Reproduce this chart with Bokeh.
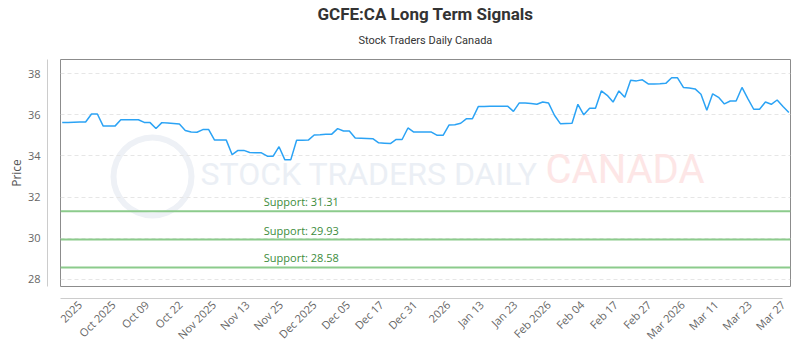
import numpy as np
from bokeh.plotting import figure
from bokeh.models import (Range1d, LinearAxis, FixedTicker, Grid, Span, Label, Title,
                          CustomJSTickFormatter)
from bokeh.core.properties import value
from bokeh.embed import file_html
from bokeh.resources import INLINE

# ---------------- data ----------------
title_text = "GCFE:CA Long Term Signals"
subtitle_text = "Stock Traders Daily Canada"
y_axis_title = "Price"

prices = [
    35.62, 35.63, 35.64, 35.65, 35.65, 36.04, 36.04, 35.45, 35.45, 35.45,
    35.76, 35.76, 35.76, 35.76, 35.63, 35.62, 35.33, 35.62, 35.60, 35.58,
    35.55, 35.24, 35.16, 35.15, 35.28, 35.28, 34.77, 34.77, 34.77, 34.06,
    34.27, 34.27, 34.17, 34.16, 34.15, 33.99, 33.99, 34.45, 33.81, 33.81,
    34.76, 34.76, 34.77, 35.02, 35.03, 35.05, 35.06, 35.33, 35.21, 35.21,
    34.87, 34.86, 34.85, 34.84, 34.64, 34.62, 34.60, 34.80, 34.80, 35.36,
    35.16, 35.16, 35.16, 35.16, 35.00, 35.00, 35.50, 35.52, 35.59, 35.81,
    35.81, 36.40, 36.41, 36.42, 36.42, 36.42, 36.42, 36.17, 36.58, 36.58,
    36.55, 36.51, 36.62, 36.57, 35.98, 35.57, 35.58, 35.59, 36.51, 36.00,
    36.32, 36.32, 37.16, 36.95, 36.62, 37.16, 36.85, 37.68, 37.65, 37.70,
    37.50, 37.50, 37.51, 37.53, 37.80, 37.80, 37.33, 37.30, 37.26, 37.00,
    36.22, 37.02, 36.85, 36.53, 36.67, 36.67, 37.33, 36.79, 36.27, 36.27,
    36.62, 36.51, 36.72, 36.40, 36.11,
]

support_levels = [31.31, 29.93, 28.58]

x_tick_labels = ["2025", "Oct 2025", "Oct 09", "Oct 22", "Nov 2025", "Nov 13",
                 "Nov 25", "Dec 2025", "Dec 05", "Dec 17", "Dec 31", "2026",
                 "Jan 13", "Jan 23", "Feb 2026", "Feb 04", "Feb 17", "Feb 27",
                 "Mar 2026", "Mar 11", "Mar 23", "Mar 27"]

y_ticks = [28, 30, 32, 34, 36, 38]

# ---------------- layout ----------------
n = len(prices)
idx = np.arange(n)
x_ticks = list(np.linspace(3, n - 2, len(x_tick_labels)))

W, H = 800, 350
L, R, T, B = 60, 10, 59, 64
FW, FH = W - L - R, H - T - B

xr = Range1d(-0.29, n - 1 + 0.28)
yr = Range1d(27.65, 38.69)

TICK_FONT = "Open Sans"
TICK_COLOR = "#666666"

p = figure(width=W, height=H, x_range=xr, y_range=yr, title=None,
           x_axis_type=None, y_axis_type=None,
           output_backend="svg", toolbar_location=None,
           min_border_left=L, min_border_right=R,
           min_border_top=T, min_border_bottom=B,
           outline_line_color="#8c8c8c", outline_line_width=1,
           background_fill_color="white", border_fill_color="white")

# titles (subtitle first -> closest to the frame)
p.add_layout(Title(text=subtitle_text, align="center", text_font="Roboto",
                   text_font_size="11px", text_font_style="normal",
                   text_color="#333333", standoff=21, vertical_align="top"), "above")
p.add_layout(Title(text=title_text, align="center", text_font="Roboto",
                   text_font_size="17px", text_font_style="bold",
                   text_color="#333333", standoff=0, text_line_height=0.6), "above")

# spacer axes create the gap between the frame and the axis lines
def spacer(standoff):
    return LinearAxis(ticker=FixedTicker(ticks=[]), axis_line_color=None,
                      major_tick_line_color=None, minor_tick_line_color=None,
                      major_tick_out=0, major_tick_in=0, major_label_standoff=0,
                      axis_label="\u00a0", axis_label_standoff=standoff,
                      axis_label_text_font_size="2px", axis_label_text_color="white")

y_ticker = FixedTicker(ticks=y_ticks)
yaxis = LinearAxis(ticker=y_ticker, axis_line_color="#cccccc",
                   major_tick_line_color=None, minor_tick_line_color=None,
                   major_tick_in=0, major_tick_out=0, major_label_standoff=7,
                   major_label_text_font=TICK_FONT, major_label_text_font_size="11px",
                   major_label_text_color=TICK_COLOR,
                   axis_label=y_axis_title, axis_label_standoff=0,
                   axis_label_text_font=TICK_FONT, axis_label_text_font_size="12px",
                   axis_label_text_font_style="normal", axis_label_text_color="#555555")
p.add_layout(spacer(8), "left")
p.add_layout(yaxis, "left")

x_ticker = FixedTicker(ticks=x_ticks)
xaxis = LinearAxis(ticker=x_ticker, axis_line_color="#cccccc",
                   bounds=(xr.start, x_ticks[-1]),
                   major_tick_line_color=None, minor_tick_line_color=None,
                   major_tick_in=0, major_tick_out=0, major_label_standoff=4,
                   major_label_orientation=np.pi / 4,
                   major_label_text_font=TICK_FONT, major_label_text_font_size="11px",
                   major_label_text_color=TICK_COLOR,
                   formatter=CustomJSTickFormatter(args=dict(labels=x_tick_labels),
                                                   code="return labels[index]"))
p.add_layout(spacer(7), "below")
p.add_layout(xaxis, "below")

p.add_layout(Grid(dimension=1, ticker=y_ticker, grid_line_color="#e6e6e6",
                  grid_line_dash="4 3"))

# ---------------- watermark ----------------
def px_to_x(px):
    return xr.start + (px - L) / FW * (xr.end - xr.start)

def py_to_y(py):
    return yr.end - (py - T) / FH * (yr.end - yr.start)

p.annulus(x=[px_to_x(152)], y=[py_to_y(176)], inner_radius=36, outer_radius=42,
          inner_radius_units="screen", outer_radius_units="screen",
          fill_color="#eef1f6", line_color=None, level="underlay")
p.add_layout(Label(x=140, y=94, x_units="screen", y_units="screen",
                   text="STOCK TRADERS DAILY", text_font="Roboto",
                   text_font_size="32px", text_color="#ebeff5", level="underlay"))
p.add_layout(Label(x=485, y=94, x_units="screen", y_units="screen",
                   text="CANADA", text_font="Roboto",
                   text_font_size="40px", text_color="#fde6e6", level="underlay"))

# ---------------- data marks ----------------
for lvl in support_levels:
    p.add_layout(Span(location=lvl, dimension="width", line_color="#8ccb8c",
                      line_width=2))

support_label_x = 34.4
p.text(x=[support_label_x] * len(support_levels), y=support_levels,
       text=[f"Support: {v:.2f}" for v in support_levels],
       text_font=value(TICK_FONT), text_font_size="11px", text_color="#3c8c3c",
       text_baseline="bottom", text_align="left", y_offset=-2)

p.line(idx, prices, line_color="#2ba3f5", line_width=1.5)

open("out.html", "w").write(file_html(p, INLINE))
